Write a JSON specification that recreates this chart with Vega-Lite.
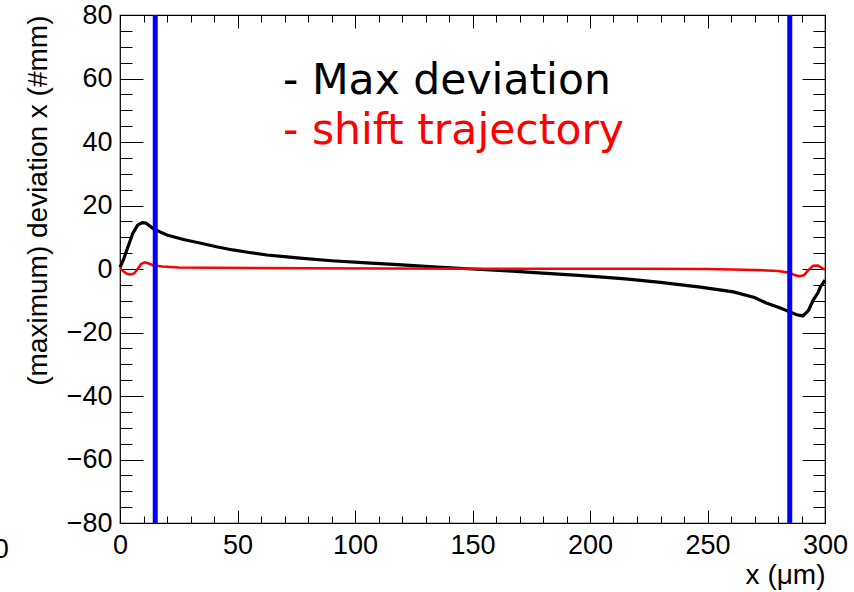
{
  "$schema": "https://vega.github.io/schema/vega-lite/v6.json",
  "width": 705,
  "height": 508,
  "autosize": {"type": "none"},
  "padding": {"left": 120, "top": 15, "right": 29, "bottom": 69},
  "background": "white",
  "config": {
    "view": {"stroke": "black", "strokeWidth": 1.2},
    "axis": {"grid": false, "domain": false, "tickColor": "black", "tickWidth": 1, "labelColor": "black", "titleColor": "black", "labelFont": "Liberation Sans", "titleFont": "Liberation Sans", "titleFontWeight": "normal"}
  },
  "datasets": {
    "curves": [
      {"x": 0, "y": 0.5, "series": "max"},
      {"x": 1.5, "y": 3, "series": "max"},
      {"x": 3.4, "y": 7, "series": "max"},
      {"x": 5.5, "y": 11.3, "series": "max"},
      {"x": 7.5, "y": 13.8, "series": "max"},
      {"x": 9.5, "y": 14.6, "series": "max"},
      {"x": 11, "y": 14.5, "series": "max"},
      {"x": 14, "y": 12.8, "series": "max"},
      {"x": 17, "y": 11.7, "series": "max"},
      {"x": 20, "y": 10.7, "series": "max"},
      {"x": 27, "y": 9.3, "series": "max"},
      {"x": 34, "y": 8.2, "series": "max"},
      {"x": 41, "y": 7, "series": "max"},
      {"x": 48, "y": 6, "series": "max"},
      {"x": 55, "y": 5.2, "series": "max"},
      {"x": 62.5, "y": 4.4, "series": "max"},
      {"x": 70, "y": 3.9, "series": "max"},
      {"x": 76.6, "y": 3.4, "series": "max"},
      {"x": 90, "y": 2.6, "series": "max"},
      {"x": 105, "y": 1.9, "series": "max"},
      {"x": 120, "y": 1.3, "series": "max"},
      {"x": 135, "y": 0.6, "series": "max"},
      {"x": 150, "y": 0, "series": "max"},
      {"x": 165, "y": -0.6, "series": "max"},
      {"x": 180, "y": -1.3, "series": "max"},
      {"x": 195, "y": -2.0, "series": "max"},
      {"x": 204, "y": -2.5, "series": "max"},
      {"x": 215, "y": -3.1, "series": "max"},
      {"x": 230, "y": -4.2, "series": "max"},
      {"x": 247, "y": -5.7, "series": "max"},
      {"x": 261, "y": -7.2, "series": "max"},
      {"x": 270, "y": -9.0, "series": "max"},
      {"x": 275, "y": -10.7, "series": "max"},
      {"x": 281, "y": -12.3, "series": "max"},
      {"x": 285, "y": -13.5, "series": "max"},
      {"x": 288, "y": -14.4, "series": "max"},
      {"x": 290.6, "y": -14.8, "series": "max"},
      {"x": 293, "y": -13, "series": "max"},
      {"x": 295, "y": -9.8, "series": "max"},
      {"x": 297, "y": -7.5, "series": "max"},
      {"x": 298, "y": -5.7, "series": "max"},
      {"x": 300, "y": -3.5, "series": "max"},
      {"x": 0, "y": 0.3, "series": "shift"},
      {"x": 1.5, "y": -0.8, "series": "shift"},
      {"x": 3, "y": -1.5, "series": "shift"},
      {"x": 4.5, "y": -1.7, "series": "shift"},
      {"x": 6, "y": -1.4, "series": "shift"},
      {"x": 7.5, "y": 0, "series": "shift"},
      {"x": 9, "y": 1.6, "series": "shift"},
      {"x": 10.5, "y": 2.1, "series": "shift"},
      {"x": 12, "y": 1.8, "series": "shift"},
      {"x": 14, "y": 1.2, "series": "shift"},
      {"x": 18, "y": 0.8, "series": "shift"},
      {"x": 25, "y": 0.5, "series": "shift"},
      {"x": 40, "y": 0.4, "series": "shift"},
      {"x": 80, "y": 0.2, "series": "shift"},
      {"x": 150, "y": 0.1, "series": "shift"},
      {"x": 220, "y": 0.1, "series": "shift"},
      {"x": 250, "y": 0.0, "series": "shift"},
      {"x": 270, "y": -0.3, "series": "shift"},
      {"x": 280, "y": -0.6, "series": "shift"},
      {"x": 285, "y": -1.2, "series": "shift"},
      {"x": 287, "y": -1.9, "series": "shift"},
      {"x": 289, "y": -2.3, "series": "shift"},
      {"x": 291, "y": -2.0, "series": "shift"},
      {"x": 293, "y": -0.3, "series": "shift"},
      {"x": 295, "y": 1.0, "series": "shift"},
      {"x": 297, "y": 1.1, "series": "shift"},
      {"x": 299, "y": 0.2, "series": "shift"},
      {"x": 300, "y": -0.2, "series": "shift"}
    ],
    "bounds": [{"x": 15}, {"x": 285}],
    "notes": [
      {"x": 69.4, "y": 55.1, "label": "- Max deviation", "kind": "max"},
      {"x": 69.4, "y": 39.4, "label": "- shift trajectory", "kind": "shift"}
    ],
    "stray": [{"x": -50.5, "y": -88.5, "label": "0"}]
  },
  "resolve": {"axis": {"x": "independent", "y": "independent"}},
  "layer": [
    {
      "data": {"name": "curves"},
      "transform": [{"filter": "datum.series === 'max'"}],
      "mark": {"type": "line", "color": "black", "strokeWidth": 3.2},
      "encoding": {
        "x": {"field": "x", "type": "quantitative", "scale": {"domain": [0, 300], "nice": false, "zero": false},
          "axis": {"orient": "bottom", "values": [0, 50, 100, 150, 200, 250, 300], "ticks": false, "labelFontSize": 27, "labelPadding": 9, "labelBaseline": "top", "labelFlush": false, "labelOverlap": false, "title": "x (μm)", "titleFontSize": 28, "titleAnchor": "end", "titleAlign": "right", "titleBaseline": "alphabetic", "titleX": 705, "titleY": 60}},
        "y": {"field": "y", "type": "quantitative", "scale": {"domain": [-80, 80], "nice": false, "zero": false},
          "axis": {"orient": "left", "values": [-80, -60, -40, -20, 0, 20, 40, 60, 80], "ticks": false, "labelFontSize": 27, "labelPadding": 8, "labelBaseline": "middle", "labelFlush": false, "labelOverlap": false, "title": "(maximum) deviation x (#mm)", "titleFontSize": 28, "titleAnchor": "end", "titleAngle": -90, "titleAlign": "right", "titleBaseline": "middle", "titleX": -82, "titleY": 0}}
      }
    },
    {
      "data": {"name": "curves"},
      "transform": [{"filter": "datum.series === 'shift'"}],
      "mark": {"type": "line", "color": "#ff0000", "strokeWidth": 2.5},
      "encoding": {
        "x": {"field": "x", "type": "quantitative", "scale": {"domain": [0, 300], "nice": false, "zero": false},
          "axis": {"orient": "bottom", "values": [0, 50, 100, 150, 200, 250, 300], "tickSize": -13, "labels": false, "title": null}},
        "y": {"field": "y", "type": "quantitative", "scale": {"domain": [-80, 80], "nice": false, "zero": false},
          "axis": {"orient": "left", "values": [-80, -60, -40, -20, 0, 20, 40, 60, 80], "tickSize": -23, "labels": false, "title": null}}
      }
    },
    {
      "data": {"name": "bounds"},
      "mark": {"type": "rule", "color": "#0000ff", "strokeWidth": 5},
      "encoding": {
        "x": {"field": "x", "type": "quantitative", "scale": {"domain": [0, 300], "nice": false, "zero": false},
          "axis": {"orient": "bottom", "values": [0, 10, 20, 30, 40, 50, 60, 70, 80, 90, 100, 110, 120, 130, 140, 150, 160, 170, 180, 190, 200, 210, 220, 230, 240, 250, 260, 270, 280, 290, 300], "tickSize": -7, "labels": false, "title": null}},
        "y": {"datum": -80, "type": "quantitative", "scale": {"domain": [-80, 80], "nice": false, "zero": false},
          "axis": {"orient": "left", "values": [-80, -75, -70, -65, -60, -55, -50, -45, -40, -35, -30, -25, -20, -15, -10, -5, 0, 5, 10, 15, 20, 25, 30, 35, 40, 45, 50, 55, 60, 65, 70, 75, 80], "tickSize": -12, "labels": false, "title": null}},
        "y2": {"datum": 80}
      }
    },
    {
      "data": {"name": "notes"},
      "transform": [{"filter": "datum.kind === 'max'"}],
      "mark": {"type": "text", "font": "DejaVu Sans", "fontSize": 42.5, "align": "left", "baseline": "alphabetic", "color": "black"},
      "encoding": {
        "x": {"field": "x", "type": "quantitative", "scale": {"domain": [0, 300], "nice": false, "zero": false},
          "axis": {"orient": "top", "values": [0, 50, 100, 150, 200, 250, 300], "tickSize": -13, "labels": false, "title": null}},
        "y": {"field": "y", "type": "quantitative", "scale": {"domain": [-80, 80], "nice": false, "zero": false},
          "axis": {"orient": "right", "values": [-80, -60, -40, -20, 0, 20, 40, 60, 80], "tickSize": -23, "labels": false, "title": null}},
        "text": {"field": "label"}
      }
    },
    {
      "data": {"name": "notes"},
      "transform": [{"filter": "datum.kind === 'shift'"}],
      "mark": {"type": "text", "font": "DejaVu Sans", "fontSize": 42.5, "align": "left", "baseline": "alphabetic", "color": "#ff0000"},
      "encoding": {
        "x": {"field": "x", "type": "quantitative", "scale": {"domain": [0, 300], "nice": false, "zero": false},
          "axis": {"orient": "top", "values": [0, 10, 20, 30, 40, 50, 60, 70, 80, 90, 100, 110, 120, 130, 140, 150, 160, 170, 180, 190, 200, 210, 220, 230, 240, 250, 260, 270, 280, 290, 300], "tickSize": -7, "labels": false, "title": null}},
        "y": {"field": "y", "type": "quantitative", "scale": {"domain": [-80, 80], "nice": false, "zero": false},
          "axis": {"orient": "right", "values": [-80, -75, -70, -65, -60, -55, -50, -45, -40, -35, -30, -25, -20, -15, -10, -5, 0, 5, 10, 15, 20, 25, 30, 35, 40, 45, 50, 55, 60, 65, 70, 75, 80], "tickSize": -12, "labels": false, "title": null}},
        "text": {"field": "label"}
      }
    },
    {
      "data": {"name": "stray"},
      "mark": {"type": "text", "font": "Liberation Sans", "fontSize": 27, "align": "center", "baseline": "middle", "color": "black", "clip": false},
      "encoding": {
        "x": {"field": "x", "type": "quantitative", "scale": {"domain": [0, 300], "nice": false, "zero": false}, "axis": null},
        "y": {"field": "y", "type": "quantitative", "scale": {"domain": [-80, 80], "nice": false, "zero": false}, "axis": null},
        "text": {"field": "label"}
      }
    }
  ]
}
